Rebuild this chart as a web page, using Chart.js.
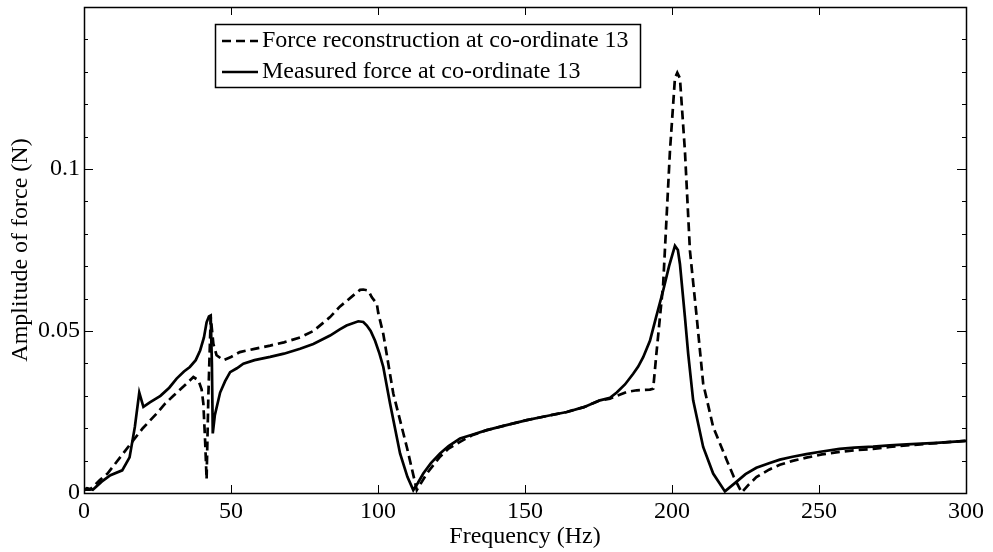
<!DOCTYPE html>
<html>
<head>
<meta charset="utf-8">
<script src="https://cdn.jsdelivr.net/npm/chart.js@4.4.1/dist/chart.umd.min.js"></script>
<style>
  html, body { margin: 0; padding: 0; background: #fff; }
  #wrap { width: 993px; height: 552px; }
</style>
</head>
<body>
<div id="wrap"><canvas id="chart" width="993" height="552"></canvas></div>
<script>
// Force reconstruction (dashed) - frequency (Hz) and amplitude (N)
const recFreq = [0, 2, 5.4, 8, 11, 14, 16.8, 20, 24.7, 27.5, 30.4, 34, 37.2, 38.9, 40, 40.6, 41.2, 41.7, 42.3, 43.1,
  44, 45.1, 47.4, 50, 53, 58, 63.3, 68, 73.5, 78, 83.7, 87, 91.6, 93.9, 95, 96.7, 97.9, 99.6, 100.1, 101.8,
  105.2, 109.8, 113.2, 116.6, 121.1, 124, 127.9, 132, 137, 143, 150.6, 157, 164.2, 170, 175.5, 178.9, 181.2, 184.6, 188, 192.5,
  193.6, 194.8, 197, 199.3, 201, 201.8, 202.7, 204.4, 206.1, 208.4, 210.6, 214, 218.6, 221, 223.7, 226, 228.7, 233, 236.7, 241,
  245.7, 251, 257, 262, 268.4, 274, 279.8, 290, 300];
const recAmp = [0.001, 0.001, 0.004, 0.006, 0.0095, 0.013, 0.0163, 0.02, 0.0245, 0.0275, 0.030, 0.033, 0.0358, 0.0348, 0.032, 0.0276, 0.016, 0.0042, 0.03, 0.0543,
  0.046, 0.0425, 0.041, 0.042, 0.0435, 0.0445, 0.0455, 0.0465, 0.048, 0.050, 0.0543, 0.0575, 0.061, 0.0627, 0.0628, 0.0625, 0.0604, 0.0584, 0.0555, 0.0491,
  0.0307, 0.0142, 0.0009, 0.006, 0.0112, 0.0137, 0.0158, 0.0178, 0.0194, 0.0208, 0.0225, 0.0237, 0.025, 0.0265, 0.0286, 0.0291, 0.030, 0.0312, 0.0317, 0.0319,
  0.0322, 0.044, 0.0645, 0.1055, 0.128, 0.1297, 0.128, 0.1055, 0.0748, 0.0543, 0.0338, 0.0204, 0.0102, 0.005, 0.0002, 0.0025, 0.0049, 0.0072, 0.0087, 0.0099,
  0.0109, 0.0119, 0.0127, 0.0132, 0.0136, 0.0142, 0.0147, 0.0154, 0.0161];

// Measured force (solid)
const measFreq = [0, 1, 3, 6, 9, 13, 15.5, 17.3, 18.8, 20.2, 22.4, 26, 29, 31.5, 34, 36, 38, 39.5, 40.8, 41.7,
  42.5, 43.1, 43.5, 43.8, 44.5, 46.3, 48, 49.7, 52, 54.2, 58, 63.3, 68, 73.5, 78, 83.7, 87, 89.3, 93.3, 95,
  96.2, 97.5, 99, 100.5, 101.8, 104.1, 107.5, 110, 112, 113.5, 115.4, 118, 121.1, 124, 127.9, 132, 137, 143, 150.6, 157,
  164.2, 170, 175.5, 178.9, 181.2, 184, 186.8, 188.5, 190.2, 192.5, 194.5, 197, 199, 201, 202, 202.7, 204.4, 205.5, 207.2, 210.6,
  214, 218, 222, 225, 228.7, 233, 236.7, 241, 245.7, 251, 257, 262, 268.4, 274, 279.8, 290, 300];
const measAmp = [0.001, 0.0015, 0.001, 0.0035, 0.0055, 0.007, 0.011, 0.0204, 0.031, 0.0266, 0.028, 0.030, 0.0325, 0.0353, 0.0375, 0.0389, 0.041, 0.044, 0.048, 0.0527,
  0.0545, 0.0548, 0.04, 0.0184, 0.024, 0.031, 0.0345, 0.0373, 0.0385, 0.0399, 0.041, 0.042, 0.043, 0.0445, 0.046, 0.0486, 0.0505, 0.0517, 0.053, 0.0528,
  0.0517, 0.050, 0.047, 0.043, 0.0389, 0.0276, 0.0122, 0.005, 0.0009, 0.003, 0.006, 0.0092, 0.0122, 0.0145, 0.0168, 0.018, 0.0194, 0.0208, 0.0225, 0.0237,
  0.025, 0.0265, 0.0286, 0.0294, 0.031, 0.0335, 0.0368, 0.039, 0.0419, 0.047, 0.054, 0.0625, 0.07, 0.0763, 0.075, 0.0707, 0.0543, 0.043, 0.0286, 0.0142,
  0.006, 0.0005, 0.0035, 0.0058, 0.0078, 0.0092, 0.0103, 0.0112, 0.012, 0.0128, 0.0136, 0.014, 0.0143, 0.0147, 0.015, 0.0155, 0.0161];

const seriesNames = ['Force reconstruction at co-ordinate 13', 'Measured force at co-ordinate 13'];

const xTickValues = [0, 50, 100, 150, 200, 250, 300];
const yTickValues = [0, 0.01, 0.02, 0.03, 0.04, 0.05, 0.06, 0.07, 0.08, 0.09, 0.1, 0.11, 0.12, 0.13, 0.14];
const yTickLabels = ['0', '', '', '', '', '0.05', '', '', '', '', '0.1', '', '', '', ''];

const FONT = 'Liberation Serif, "Times New Roman", serif';
const FONT_SIZE = 24;

function toPoints(xs, ys) {
  return xs.map((x, i) => ({ x: x, y: ys[i] }));
}

// box around the axes + inward tick marks (matlab style)
const axesBox = {
  id: 'axesBox',
  afterDraw(chart) {
    const { ctx, chartArea: a, scales } = chart;
    ctx.save();
    ctx.strokeStyle = '#000';
    ctx.lineWidth = 1;
    ctx.beginPath();
    scales.x.ticks.forEach(t => {
      const px = Math.round(scales.x.getPixelForValue(t.value)) + 0.5;
      ctx.moveTo(px, a.bottom); ctx.lineTo(px, a.bottom - 8);
      ctx.moveTo(px, a.top); ctx.lineTo(px, a.top + 8);
    });
    scales.y.ticks.forEach((t, i) => {
      const py = Math.round(scales.y.getPixelForValue(t.value)) + 0.5;
      const len = yTickLabels[i] ? 9 : 4;
      ctx.moveTo(a.left, py); ctx.lineTo(a.left + len, py);
      ctx.moveTo(a.right, py); ctx.lineTo(a.right - len, py);
    });
    ctx.stroke();
    ctx.lineWidth = 1.5;
    ctx.strokeRect(Math.round(a.left) + 0.5, Math.round(a.top) + 0.5, Math.round(a.right - a.left), Math.round(a.bottom - a.top));
    ctx.restore();
  }
};

// legend drawn inside the axes, upper left
const boxLegend = {
  id: 'boxLegend',
  afterDraw(chart) {
    const { ctx } = chart;
    const x0 = 215, y0 = 24, w = 425, rowH = 31;
    ctx.save();
    ctx.fillStyle = '#fff';
    ctx.fillRect(x0, y0, w, rowH * 2 + 1);
    ctx.strokeStyle = '#000';
    ctx.lineWidth = 1.5;
    ctx.strokeRect(x0 + 0.5, y0 + 0.5, w, rowH * 2 + 1);
    ctx.font = FONT_SIZE + 'px ' + FONT;
    ctx.textBaseline = 'middle';
    chart.data.datasets.forEach((ds, i) => {
      const cy = y0 + 17 + i * rowH;
      ctx.beginPath();
      ctx.lineWidth = ds.borderWidth;
      ctx.setLineDash(ds.borderDash || []);
      ctx.moveTo(x0 + 7, cy);
      ctx.lineTo(x0 + 43, cy);
      ctx.stroke();
      ctx.setLineDash([]);
      ctx.fillStyle = '#000';
      ctx.fillText(ds.label, x0 + 47, cy);
    });
    ctx.restore();
  }
};

new Chart(document.getElementById('chart'), {
  type: 'line',
  data: {
    datasets: [
      {
        label: seriesNames[0],
        data: toPoints(recFreq, recAmp),
        borderColor: '#000',
        borderWidth: 2.7,
        borderDash: [9, 5],
        pointRadius: 0,
        tension: 0
      },
      {
        label: seriesNames[1],
        data: toPoints(measFreq, measAmp),
        borderColor: '#000',
        borderWidth: 2.7,
        pointRadius: 0,
        tension: 0
      }
    ]
  },
  options: {
    responsive: false,
    animation: false,
    layout: { padding: { left: 0, right: 27, top: 7, bottom: 0 } },
    plugins: { legend: { display: false }, tooltip: { enabled: false } },
    scales: {
      x: {
        type: 'linear',
        min: 0,
        max: 300,
        afterBuildTicks: s => { s.ticks = xTickValues.map(v => ({ value: v })); },
        afterFit: s => { s.height = 59; s.paddingLeft = 0; s.paddingRight = 0; },
        grid: { display: false, drawTicks: false },
        border: { display: false },
        ticks: {
          color: '#000',
          padding: 4,
          maxRotation: 0,
          font: { family: FONT, size: FONT_SIZE },
          callback: v => String(v)
        },
        title: {
          display: true,
          text: 'Frequency (Hz)',
          color: '#000',
          font: { family: FONT, size: FONT_SIZE },
          padding: { top: 0, bottom: 1 }
        }
      },
      y: {
        type: 'linear',
        min: 0,
        max: 0.15,
        afterBuildTicks: s => { s.ticks = yTickValues.map(v => ({ value: v })); },
        afterFit: s => { s.width = 84; s.paddingTop = 0; s.paddingBottom = 0; },
        grid: { display: false, drawTicks: false },
        border: { display: false },
        ticks: {
          color: '#000',
          padding: 4,
          font: { family: FONT, size: FONT_SIZE },
          callback: (v, i) => yTickLabels[i]
        },
        title: {
          display: true,
          text: 'Amplitude of force (N)',
          color: '#000',
          font: { family: FONT, size: FONT_SIZE },
          padding: { top: 6, bottom: 0 }
        }
      }
    }
  },
  plugins: [axesBox, boxLegend]
});
</script>
</body>
</html>
